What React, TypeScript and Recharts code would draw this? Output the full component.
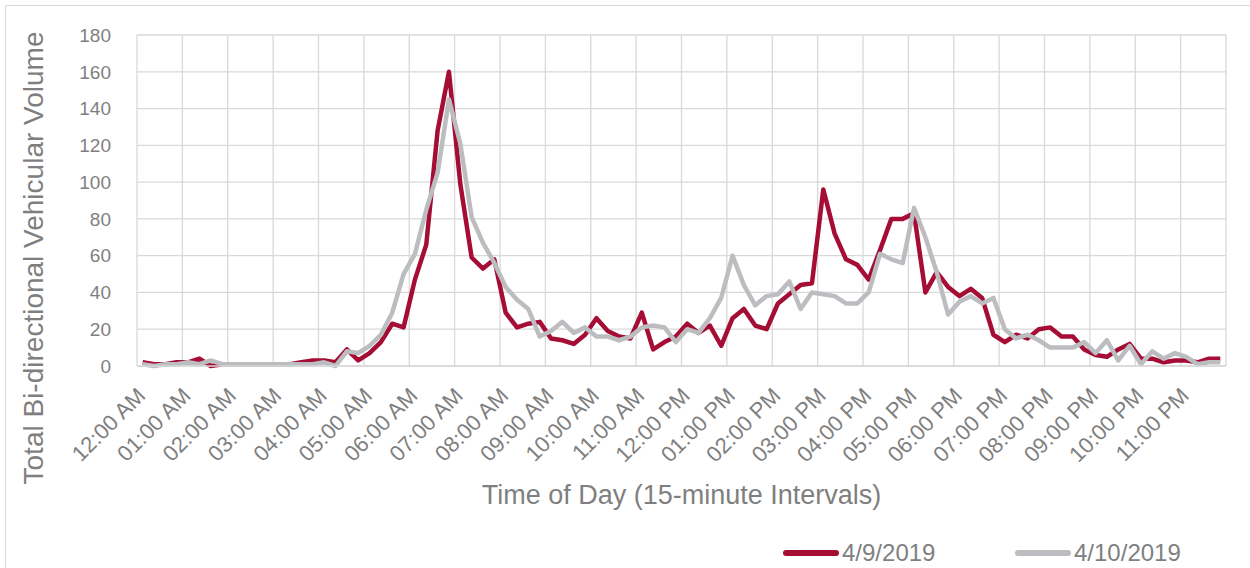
import { CartesianGrid, Legend, Line, LineChart, XAxis, YAxis } from 'recharts';

// hour labels, one per 4 fifteen-minute slots
const hourLabels = [
  '12:00 AM', '01:00 AM', '02:00 AM', '03:00 AM', '04:00 AM', '05:00 AM',
  '06:00 AM', '07:00 AM', '08:00 AM', '09:00 AM', '10:00 AM', '11:00 AM',
  '12:00 PM', '01:00 PM', '02:00 PM', '03:00 PM', '04:00 PM', '05:00 PM',
  '06:00 PM', '07:00 PM', '08:00 PM', '09:00 PM', '10:00 PM', '11:00 PM',
];

// total bi-directional volume per 15-minute interval
const volumeApr9 = [
  2, 1, 1, 2, 2, 4, 0, 1, 1, 1, 1, 1, 1, 1, 2, 3, 3, 2, 9, 3, 7, 13, 23, 21,
  47, 66, 128, 160, 99, 59, 53, 58, 29, 21, 23, 24, 15, 14, 12, 17, 26, 19, 16, 15, 29, 9, 13, 16,
  23, 18, 22, 11, 26, 31, 22, 20, 34, 39, 44, 45, 96, 72, 58, 55, 47, 63, 80, 80, 83, 40, 51, 43,
  38, 42, 37, 17, 13, 17, 15, 20, 21, 16, 16, 9, 6, 5, 9, 12, 4, 4, 2, 3, 3, 2, 4, 4,
];

const volumeApr10 = [
  1, 0, 1, 1, 2, 1, 3, 1, 1, 1, 1, 1, 1, 1, 1, 1, 2, 0, 8, 7, 11, 17, 29, 50,
  61, 85, 105, 145, 121, 81, 67, 56, 43, 36, 31, 16, 19, 24, 18, 21, 16, 16, 14, 16, 21, 22, 21, 13,
  20, 18, 26, 37, 60, 44, 33, 38, 39, 46, 31, 40, 39, 38, 34, 34, 40, 61, 58, 56, 86, 70, 51, 28,
  35, 38, 34, 37, 20, 15, 17, 14, 10, 10, 10, 13, 7, 14, 3, 11, 1, 8, 4, 7, 5, 1, 2, 2,
];

const yTicks = [0, 20, 40, 60, 80, 100, 120, 140, 160, 180];

const FONT = '"Liberation Sans", Arial, sans-serif';
const TEXT = '#7f7f7f';
const GRID = '#d9d9d9';
const RED = '#a50d34';
const GRAY = '#bcbdc0';

const SLOTS_PER_HOUR = 4;
const data = volumeApr9.map((v, i) => ({ slot: i, apr9: v, apr10: volumeApr10[i] }));
const hourTicks = hourLabels.map((_, h) => h * SLOTS_PER_HOUR);

// where each legend entry starts
const legendLeft: Record<string, number> = { apr9: 783, apr10: 1015 };

function HourTick(props: any) {
  const { x, y, payload } = props;
  const label = hourLabels[Math.round(payload.value / SLOTS_PER_HOUR)];
  const px = x + 4;
  const py = y + 31;
  return (
    <text x={px} y={py} textAnchor="end" transform={`rotate(-45 ${px} ${py})`} fill={TEXT} fontSize={22} fontFamily={FONT}>
      {label}
    </text>
  );
}

function renderLegend(props: any) {
  return (
    <div style={{ position: 'relative', width: 1250, height: 34 }}>
      {(props.payload || []).map((p: any) => (
        <div key={p.value} style={{ position: 'absolute', left: legendLeft[p.dataKey], top: 0, height: 34, display: 'flex', alignItems: 'center' }}>
          <span style={{ display: 'inline-block', width: 56, height: 6, borderRadius: 3, background: p.color }} />
          <span style={{ marginLeft: 3, fontSize: 24, color: TEXT, fontFamily: FONT }}>{p.value}</span>
        </div>
      ))}
    </div>
  );
}

export default function App() {
  return (
    <div style={{ position: 'absolute', left: 0, top: 0, width: 1250, height: 568, overflow: 'hidden', background: '#fff' }}>
      <div style={{ position: 'absolute', left: 5, top: 5, width: 1260, height: 580, border: `1px solid ${GRID}` }} />
      <LineChart width={1250} height={568} data={data} margin={{ top: 35, right: 24, bottom: 0, left: 0 }}>
        <CartesianGrid
          stroke={GRID}
          strokeWidth={1.3}
          verticalCoordinatesGenerator={({ offset }: any) =>
            hourLabels.concat(['']).map((_, h) => offset.left + (h * offset.width) / hourLabels.length)
          }
        />
        <XAxis
          dataKey="slot"
          type="number"
          domain={[-0.5, volumeApr9.length - 0.5]}
          ticks={hourTicks}
          interval={0}
          tick={(p: any) => <HourTick {...p} />}
          tickLine={false}
          tickSize={0}
          tickMargin={0}
          axisLine={{ stroke: GRID, strokeWidth: 1.3 }}
          height={168}
          label={(p: any) => {
            const vb = p.viewBox;
            return (
              <text x={vb.x + vb.width / 2} y={vb.y + 138} textAnchor="middle" fill={TEXT} fontSize={27} fontFamily={FONT}>
                Time of Day (15-minute Intervals)
              </text>
            );
          }}
        />
        <YAxis
          domain={[0, 180]}
          ticks={yTicks}
          width={137}
          axisLine={false}
          tickLine={false}
          tickSize={0}
          tickMargin={26}
          tick={{ fill: TEXT, fontSize: 19, fontFamily: FONT }}
          label={(p: any) => {
            const vb = p.viewBox;
            const lx = 43;
            const ly = vb.y + 223;
            return (
              <text x={lx} y={ly} textAnchor="middle" transform={`rotate(-90 ${lx} ${ly})`} fill={TEXT} fontSize={28} fontFamily={FONT}>
                Total Bi-directional Vehicular Volume
              </text>
            );
          }}
        />
        <Legend verticalAlign="bottom" wrapperStyle={{ left: 0, top: 536, width: 1250, height: 34 }} content={renderLegend} />
        <Line type="linear" dataKey="apr9" name="4/9/2019" stroke={RED} strokeWidth={4.5} strokeLinejoin="round" dot={false} activeDot={false} isAnimationActive={false} />
        <Line type="linear" dataKey="apr10" name="4/10/2019" stroke={GRAY} strokeWidth={4.5} strokeLinejoin="round" dot={false} activeDot={false} isAnimationActive={false} />
      </LineChart>
    </div>
  );
}
